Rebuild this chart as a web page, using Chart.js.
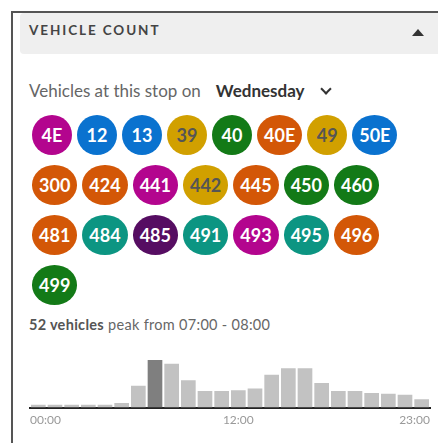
<!DOCTYPE html>
<html>
<head>
<meta charset="utf-8">
<script src="https://cdn.jsdelivr.net/npm/chart.js@4/dist/chart.umd.min.js"></script>
<style>
  html, body { margin:0; padding:0; background:#fff; width:438px; height:443px; overflow:hidden; font-family: Lato, "Open Sans", sans-serif; }
  #frame { position:absolute; left:11px; top:11px; width:600px; height:600px; border-left:2px solid #555; border-top:2px solid #555; }
  #header { position:absolute; left:20px; top:13px; width:440px; height:41px; background:#efefef; border-radius:4px; }
  #title { position:absolute; left:29px; top:22px; font-size:13.5px; font-weight:700; letter-spacing:1.9px; color:#444; }
  #tri { position:absolute; left:412px; top:29px; width:0; height:0; border-left:6px solid transparent; border-right:6px solid transparent; border-bottom:7px solid #333; }
  #sub { position:absolute; left:29px; top:80px; font-size:17px; color:#666; white-space:nowrap; }
  #sub b { color:#333; font-weight:700; margin-left:15px; }
  #chev { display:inline-block; margin-left:17px; position:relative; top:-4px; width:6px; height:6px; border-right:2px solid #333; border-bottom:2px solid #333; transform:rotate(45deg); }
  #routes { position:absolute; left:32px; top:115px; width:380px; display:flex; flex-wrap:wrap; column-gap:5px; row-gap:10px; }
  .r { height:40px; min-width:40px; box-sizing:border-box; padding:0 7px; border-radius:50%; display:flex; align-items:center; justify-content:center; font-size:18px; font-weight:700; color:#fff; }
  #peak { position:absolute; left:29px; top:316px; font-size:14.5px; letter-spacing:0.3px; color:#666; white-space:nowrap; }
  #peak b { color:#555; }
  #cw { position:absolute; left:25px; top:360px; width:410px; height:72px; }
</style>
</head>
<body>
<div id="frame"></div>
<div id="header"></div>
<div id="title">VEHICLE COUNT</div>
<div id="tri"></div>
<div id="sub">Vehicles at this stop on<b>Wednesday</b><span id="chev"></span></div>
<div id="routes"></div>
<div id="peak"><b>52 vehicles</b> peak from 07:00 - 08:00</div>
<div id="cw"><canvas id="c"></canvas></div>
<script>
// Route badges
const routeNames  = ['4E','12','13','39','40','40E','49','50E','300','424','441','442','445','450','460','481','484','485','491','493','495','496','499'];
const routeColors = ['#b3058e','#0a72cf','#0a72cf','#d1a000','#137a17','#d35707','#d1a000','#0a72cf','#d35707','#d35707','#b3058e','#d1a000','#d35707','#137a17','#137a17','#d35707','#0c9582','#560d62','#0c9582','#b3058e','#0c9582','#d35707','#137a17'];
const darkText = ['39','49','442'];
const wrap = document.getElementById('routes');
routeNames.forEach((n, i) => {
  const d = document.createElement('div');
  d.className = 'r';
  d.textContent = n;
  d.style.background = routeColors[i];
  if (darkText.includes(n)) d.style.color = '#555';
  wrap.appendChild(d);
});

// Histogram data
const hours = ['00:00','01:00','02:00','03:00','04:00','05:00','06:00','07:00','08:00','09:00','10:00','11:00','12:00','13:00','14:00','15:00','16:00','17:00','18:00','19:00','20:00','21:00','22:00','23:00'];
const hourIndex = [0,1,2,3,4,5,6,7,8,9,10,11,12,13,14,15,16,17,18,19,20,21,22,23];
const counts = [3,3,3,3,3,5,24,52,48,30,18,18,19,21,36,43,43,27,18,18,16,15,14,9];
const peakHour = 7;
const tickHours = [-0.5, 12, 23.5];
const tickLabels = ['00:00','12:00','23:00'];

new Chart(document.getElementById('c'), {
  type: 'bar',
  data: {
    datasets: [{
      data: hourIndex.map((h, i) => ({ x: h, y: counts[i] })),
      backgroundColor: hourIndex.map(h => h === peakHour ? '#7f7f7f' : '#c2c2c2'),
      barPercentage: 0.88,
      categoryPercentage: 1,
      borderWidth: 0
    }]
  },
  options: {
    responsive: true,
    maintainAspectRatio: false,
    animation: false,
    layout: { padding: 0 },
    plugins: { legend: { display: false }, tooltip: { enabled: false } },
    scales: {
      x: {
        type: 'linear',
        min: -0.5, max: 23.5,
        offset: false,
        grid: { display: false, drawTicks: false },
        border: { display: true, color: '#222', width: 2 },
        afterBuildTicks: (axis) => { axis.ticks = tickHours.map(v => ({ value: v })); },
        ticks: {
          align: 'inner',
          autoSkip: false,
          maxRotation: 0,
          padding: 5,
          color: '#999',
          font: { family: 'Lato', size: 12 },
          callback: (v) => { const k = tickHours.indexOf(v); return k >= 0 ? tickLabels[k] : ''; }
        }
      },
      y: { display: false, min: 0, max: 52 }
    }
  }
});
</script>
</body>
</html>
